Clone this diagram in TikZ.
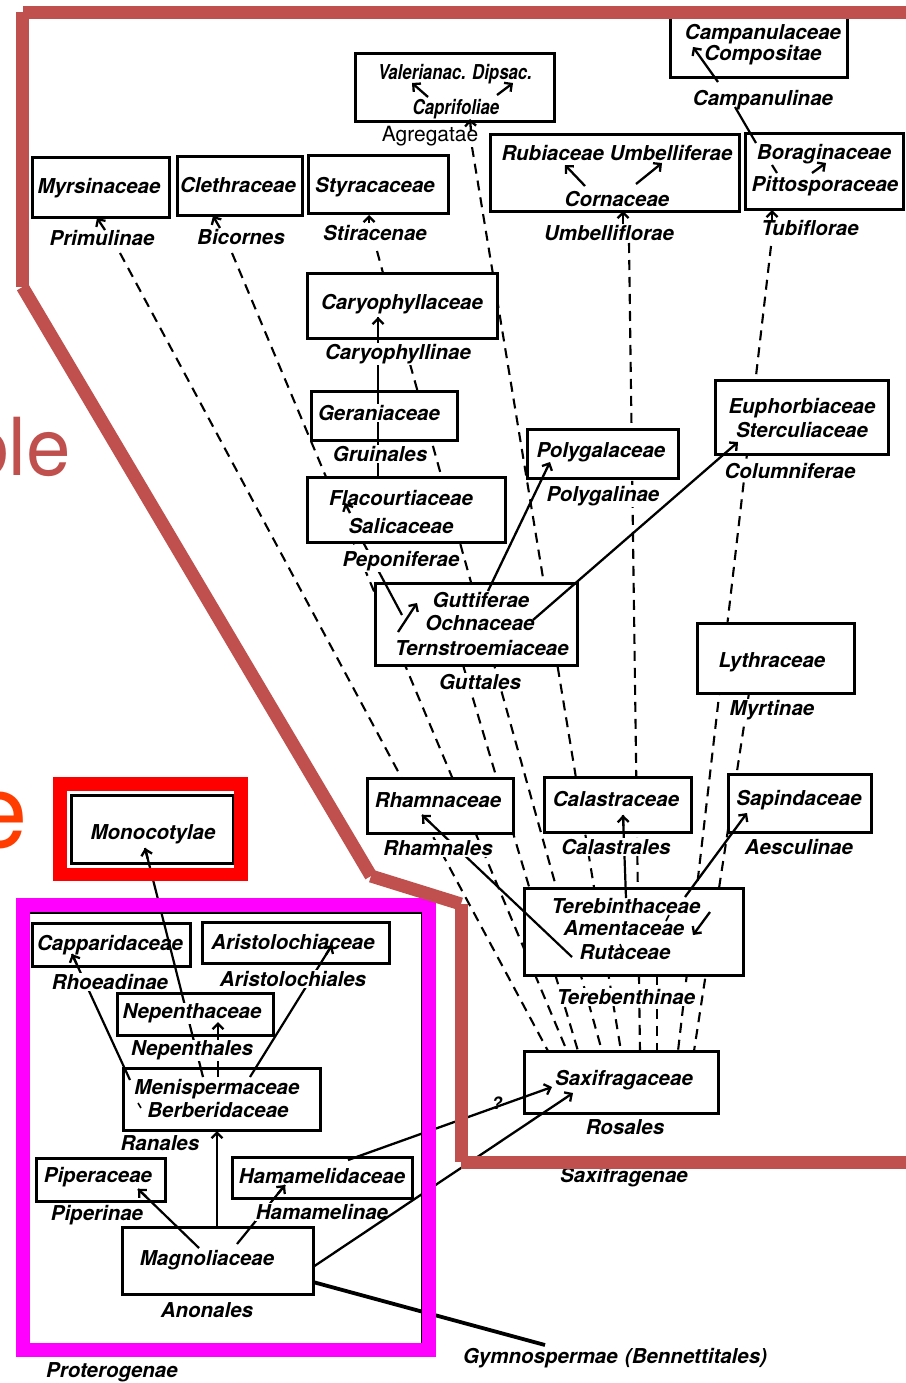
\documentclass[tikz,border=0pt]{standalone}
\usepackage{fontspec}
\setmainfont{TeX Gyre Heros}
\usepackage{graphicx}
\usetikzlibrary{arrows.meta,fit,calc}
\definecolor{brn}{HTML}{C0504D}
\definecolor{mag}{HTML}{FF00FF}
\definecolor{redb}{HTML}{FF0000}
\definecolor{orng}{HTML}{FF3D00}
\newcommand\tf{\fontsize{20.5}{23}\selectfont\bfseries\itshape}
\newcommand\mkln[4][dsh]{\coordinate (#2a) at (#3); \coordinate (#2b) at (#4); \draw[#1] (#2a) -- (#2b);}
\newcommand\mkbox[5]{\node[boxst, fit={(#2,#3) (#4,#5)}] (#1) {};}
\newcommand\mklab[4][lab]{\node[#1] (#2) at (#3) {#4};}
\newcommand\mkhead[1]{\draw[arr] ($(#1b)!11pt!(#1a)$) -- (#1b);}
\begin{document}
\begin{tikzpicture}[x=1pt,y=-1pt,
 boxst/.style={draw=black, line width=3pt, fill=white, inner sep=0pt},
 lab/.style={font=\tf, anchor=base, yshift=-7.5pt, inner sep=1pt, fill=white},
 txt/.style={font=\tf, anchor=base, yshift=-7.5pt, inner sep=1pt},
 dsh/.style={line width=2.1pt, dash pattern=on 10pt off 7pt},
 ln/.style={line width=2.2pt},
 arr/.style={line width=2.3pt, -{Straight Barb[length=5.5pt,width=11pt]}},
]
\fill[white] (0,0) rectangle (905,1383);
\useasboundingbox (0,0) rectangle (905,1383);

% ---------- dashed lines ----------
\mkln{dPri}{120,253}{548,1051}
\mkln{dBic}{232,253}{567,1051}
\mkln{dSti}{377,251}{383,273}
\mkln{dCar}{410,364}{602,1051}
\mkln{dAgr}{472,147}{621,1051}
\mkln{dUmb}{629,243}{640,1051}
\mkln{dTub}{771,246}{678,1051}
\mkln{dMyr}{749,693}{694,1051}
\mkln{dGut}{463,665}{578,1051}
\mkln{dTer}{657,975}{657,1051}

% ---------- boxes ----------
\mkbox{bVal}{355}{54}{554}{122}
\mkbox{bCamp}{670}{14}{847}{78}
\mkbox{bBor}{745}{134}{903}{209}
\mkbox{bRub}{490}{135}{739}{211}
\mkbox{bMyr}{32}{158}{169}{217}
\mkbox{bCle}{177}{157}{302}{215}
\mkbox{bSty}{308}{156}{448}{213}
\mkbox{bCar}{307}{273}{497}{338}
\mkbox{bGer}{311}{391}{457}{440}
\mkbox{bFla}{307}{477}{505}{542}
\mkbox{bGut}{375}{583}{577}{665}
\mkbox{bPol}{527}{429}{678}{478}
\mkbox{bEup}{715}{380}{888}{454}
\mkbox{bLyt}{697}{623}{854}{693}
\mkbox{bRha}{367}{778}{513}{833}
\mkbox{bCal}{544}{777}{691}{832}
\mkbox{bSap}{728}{774}{871}{832}
\mkbox{bTer}{524}{888}{743}{975}
\mkbox{bSax}{524}{1051}{718}{1113}
\mkbox{bMon}{71}{795}{233}{863}
\mkbox{bCap}{32}{923}{190}{966}
\mkbox{bAri}{202}{922}{389}{963}
\mkbox{bNep}{117}{993}{273}{1035}
\mkbox{bMen}{123}{1068}{320}{1130}
\mkbox{bPip}{36}{1158}{165}{1201}
\mkbox{bHam}{232}{1157}{412}{1198}
\mkbox{bMag}{122}{1227}{313}{1294}

% ---------- solid lines masked by labels ----------
\mkln[ln]{sCar}{378,477}{378,317}
\mkln[ln]{sPep}{363,542}{402,615}
\mkln[ln]{sRha}{572,957}{422,815}
\mkln[ln]{sCal}{626,898}{623,815}
\mkln[ln]{sRho}{130,1080}{72,954}
\mkln[ln]{sAri}{250,1077}{332,945}
\mkln[ln]{sNep}{218,1077}{218,1022}
\mkln[ln]{sMon}{203,1077}{145,848}
\mkln[ln]{sPip}{199,1248}{138,1189}
\mkln[ln]{sHam}{237,1244}{285,1185}

% ---------- texts ----------
\mklab[txt]{tVal}{455,72}{\scalebox{0.82}[1]{Valerianac. Dipsac.}}
\mklab[txt]{tCapr}{456,107}{\scalebox{0.82}[1]{Caprifoliae}}
\node[lab, font=\fontsize{21}{24}\selectfont] (tAgr) at (430,134) {Agregatae};
\mklab[txt]{tCampa}{763,32}{Campanulaceae}
\mklab[txt]{tCompo}{763,53}{Compositae}
\mklab{tCampl}{763,98}{Campanulinae}
\mklab[txt]{tBor}{824,152}{Boraginaceae}
\mklab[txt]{tPit}{825,184}{Pittosporaceae}
\mklab{tTub}{810,228}{Tubiflorae}
\mklab[txt]{tRub}{617,153}{Rubiaceae Umbelliferae}
\mklab[txt]{tCor}{617,199}{Cornaceae}
\mklab{tUmb}{609,233}{Umbelliflorae}
\mklab[txt]{tMyr}{99,186}{Myrsinaceae}
\mklab{tPri}{102,238}{Primulinae}
\mklab[txt]{tCle}{238,185}{Clethraceae}
\mklab{tBic}{241,237}{Bicornes}
\mklab[txt]{tSty}{375,185}{Styracaceae}
\mklab{tSti}{375,233}{Stiracenae}
\mklab[txt]{tCary}{402,302}{Caryophyllaceae}
\mklab{tCaryl}{398,352}{Caryophyllinae}
\mklab{tGer}{379,413}{Geraniaceae}
\mklab{tGru}{380,454}{Gruinales}
\mklab[txt]{tFla}{401,498}{Flacourtiaceae}
\mklab[txt]{tSal}{401,526}{Salicaceae}
\mklab{tPep}{401,559}{Peponiferae}
\mklab[txt]{tGut}{481,600}{Guttiferae}
\mklab[txt]{tOch}{480,623}{Ochnaceae}
\mklab[txt]{tTern}{482,648}{Ternstroemiaceae}
\mklab{tGutl}{480,682}{Guttales}
\mklab[txt]{tPol}{601,450}{Polygalaceae}
\mklab{tPoll}{603,494}{Polygalinae}
\mklab[txt]{tEup}{802,406}{Euphorbiaceae}
\mklab[txt]{tSte}{802,430}{Sterculiaceae}
\mklab{tCol}{790,471}{Columniferae}
\mklab[txt]{tLyt}{772,660}{Lythraceae}
\mklab{tMyrt}{772,708}{Myrtinae}
\mklab[txt]{tRha}{438,800}{Rhamnaceae}
\mklab{tRhal}{438,848}{Rhamnales}
\mklab[txt]{tCal}{616,799}{Calastraceae}
\mklab{tCall}{616,847}{Calastrales}
\mklab[txt]{tSap}{799,798}{Sapindaceae}
\mklab{tAes}{799,847}{Aesculinae}
\mklab[txt]{tTere}{626,906}{Terebinthaceae}
\mklab[txt]{tAme}{624,928}{Amentaceae}
\mklab[txt]{tRut}{625,952}{Rutaceae}
\mklab{tTerl}{626,997}{Terebenthinae}
\mklab[txt]{tSax}{624,1078}{Saxifragaceae}
\mklab{tRos}{625,1127}{Rosales}
\mklab{tSaxl}{624,1175}{Saxifragenae}
\mklab[txt]{tMon}{153,832}{Monocotylae}
\mklab[txt]{tCapp}{110,943}{Capparidaceae}
\mklab{tRho}{110,982}{Rhoeadinae}
\mklab[txt]{tAri}{293,942}{Aristolochiaceae}
\mklab{tAril}{293,979}{Aristolochiales}
\mklab{tNep}{192,1011}{Nepenthaceae}
\mklab{tNepl}{192,1048}{Nepenthales}
\mklab[txt]{tMen}{217,1087}{Menispermaceae}
\mklab[txt]{tBer}{218,1110}{Berberidaceae}
\mklab{tRan}{160,1143}{Ranales}
\mklab[txt]{tPip}{98,1175}{Piperaceae}
\mklab{tPipl}{97,1213}{Piperinae}
\mklab[txt]{tHam}{322,1176}{Hamamelidaceae}
\mklab{tHaml}{322,1212}{Hamamelinae}
\mklab[txt]{tMag}{207,1258}{Magnoliaceae}
\mklab{tAno}{207,1310}{Anonales}
\mklab{tPro}{112,1370}{Proterogenae}
\mklab{tGym}{615,1356}{Gymnospermae\hspace{0.35em}(Bennettitales)}
\node[font=\bfseries\itshape\fontsize{17}{18}\selectfont, inner sep=0pt] (tQ) at (497,1103) {?};

% ---------- arrow heads of masked lines ----------
\mkhead{sCar}
\mkhead{sRha}
\mkhead{sCal}
\mkhead{sRho}
\mkhead{sAri}
\mkhead{sNep}
\mkhead{sMon}
\mkhead{sPip}
\mkhead{sHam}

% ---------- arrows drawn over text ----------
\mkln[arr]{aY}{398,632}{417,603}
\mkln[arr]{aPol}{488,591}{550,462}
\mkln[arr]{aEup}{533,620}{738,442}
\mkln[arr]{aSap}{685,897}{747,813}
\mkln[arr]{aTin}{710,912}{693,935}
\mkln[arr]{aCom}{718,82}{693,47}
\mkln[ln]{sBor}{735,107}{756,143}
\mkln[ln]{tkBor}{772,165}{777,173}
\mkln[arr]{aBor}{812,173}{826,163}
\mkln[arr]{aTub}{772,222}{772,210}
\mkln[arr]{aRub}{585,186}{565,165}
\mkln[arr]{aUmbf}{636,184}{662,163}
\mkln[arr]{aCor}{623,224}{623,211}
\mkln[arr]{aVal}{428,97}{412,83}
\mkln[arr]{aDip}{497,95}{513,83}
\mkln[arr]{aAgr}{471,131}{470,119}
\mkln[arr]{aPri}{105,230}{97,218}
\mkln[arr]{aBic}{220,228}{213,216}
\mkln[arr]{aSti}{369,223}{369,215}
\mkln[arr]{aSal}{350,513}{345,503}
\mkln[arr]{aRan}{217,1227}{217,1131}
\mkln[arr]{aQ}{348,1160}{552,1087}
\mkln[arr]{aMag}{313,1267}{573,1093}
\mkln[line width=3.8pt]{sGym}{313,1282}{545,1345}
\mkln[line width=1.6pt]{tkA}{669,915}{666,921}
\mkln[line width=1.6pt]{tkR}{620,944}{622,950}
\mkln[line width=1.6pt]{tkB}{138,1103}{141,1108}

% ---------- coloured overlays ----------
\coordinate (fr1) at (29,913); \coordinate (fr2) at (422,913); \coordinate (fr3) at (422,1343);
\draw[black, line width=1.8pt] (fr1) -- (fr2) -- (fr3);
\coordinate (mg1) at (22.5,905); \coordinate (mg2) at (429,1350);
\draw[mag, line width=14pt] (mg1) rectangle (mg2);
\coordinate (rd1) at (60,784); \coordinate (rd2) at (241,874.5);
\draw[redb, line width=13.5pt] (rd1) rectangle (rd2);
\coordinate (b0) at (915,12.5);
\coordinate (b1) at (22.5,12.5);
\coordinate (b2) at (22.5,287);
\coordinate (b3) at (371,876);
\coordinate (b4) at (461,904);
\coordinate (b5) at (461,1162);
\coordinate (b6) at (915,1162);
\begin{scope}[brn, line width=13pt, line cap=butt]
\draw (b0) -- (b1);
\draw (b1) -- (b2);
\draw (b2) -- (b3);
\draw (b3) -- (b4);
\draw (b4) -- (b5);
\draw (b5) -- (b6);
\end{scope}
\node[anchor=base east, text=brn, font=\fontsize{80}{80}\selectfont, inner sep=0pt] (ble) at (71,475) {ble};
\node[anchor=base east, text=orng, font=\fontsize{103}{103}\selectfont, inner sep=0pt] (oe) at (28,847) {e};
\end{tikzpicture}
\end{document}
